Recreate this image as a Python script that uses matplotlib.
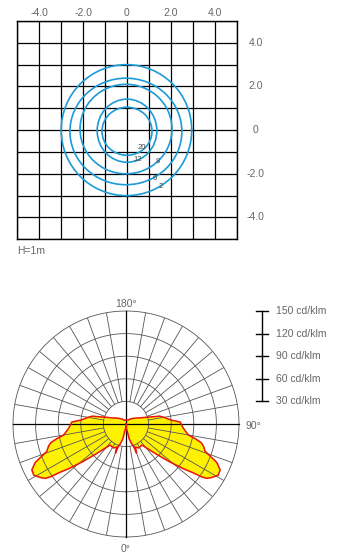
import matplotlib
matplotlib.use('Agg')
import matplotlib.pyplot as plt
from matplotlib.patches import Ellipse
import numpy as np

plt.rcParams['font.family'] = ['Liberation Sans', 'DejaVu Sans']

# isolux plot (H=1m): radius of each contour to the right, top, left, bottom
lux_levels = [20, 12, 8, 6, 2]
r_right = [1.14, 1.36, 2.05, 2.50, 2.95]
r_top = [1.05, 1.42, 2.10, 2.38, 3.00]
r_left = [1.14, 1.36, 2.14, 2.60, 3.00]
r_bottom = [1.15, 1.47, 2.00, 2.50, 3.00]
label_x = [0.67, 0.51, 1.38, 1.27, 1.53]
label_y = [-0.79, -1.33, -1.45, -2.22, -2.57]
axis_ticks = [-4, -2, 0, 2, 4]
axis_labels = ['-4.0', '-2.0', '0', '2.0', '4.0']

# polar intensity curve (cd/klm), gamma from nadir, mirrored left/right
gamma = [0, 5, 10, 12, 16, 19, 20, 22, 28, 37, 45, 49, 52, 54, 55, 56, 58, 61, 64, 67,
         69, 71, 74, 76, 78, 80, 86, 92, 95, 100, 103, 108, 115, 120, 130, 140, 150,
         160, 170, 180]
intensity = [0, 6, 10, 20, 27, 33, 41, 33, 36, 35, 56, 76, 96, 110, 122, 129, 134, 140,
             139, 131, 120, 111, 107, 103, 94, 84, 76, 72, 60, 51, 46, 29, 19, 16, 11.4,
             8.7, 6.1, 5.5, 5.3, 5.3]
rings = [30, 60, 90, 120, 150]
scale_labels = ['150 cd/klm', '120 cd/klm', '90 cd/klm', '60 cd/klm', '30 cd/klm']
scale_vals = [150, 120, 90, 60, 30]

W, H = 343, 556
txt_col = '#666666'
fs = 7.5

fig = plt.figure(figsize=(W / 100, H / 100), dpi=100)

# ---- top: isolux grid ----
ax1 = fig.add_axes([17.3 / W, (H - 239.3) / H, 219.4 / W, 218.3 / H])
ax1.set_xlim(-5, 5)
ax1.set_ylim(-5, 5)
ax1.set_xticks(range(-5, 6))
ax1.set_yticks(range(-5, 6))
ax1.grid(True, color='black', lw=0.9)
ax1.tick_params(length=0, labelbottom=False, labelleft=False)
for s in ax1.spines.values():
    s.set_linewidth(1.0)
for lvl, rr, rt, rl, rb in zip(lux_levels, r_right, r_top, r_left, r_bottom):
    e = Ellipse(((rr - rl) / 2, (rt - rb) / 2), rr + rl, rt + rb,
                fill=False, ec='#1b9bd8', lw=1.2, zorder=3)
    ax1.add_patch(e)
for lvl, x, y in zip(lux_levels, label_x, label_y):
    ax1.text(x, y, str(lvl), fontsize=5.5, color='#444444', ha='center', va='center', zorder=4)
for v, lab in zip(axis_ticks, axis_labels):
    ax1.annotate(lab, xy=(v, 5), xytext=(0, 8), textcoords='offset pixels',
                 ha='center', va='center', fontsize=fs, color=txt_col, annotation_clip=False)
    ax1.annotate(lab, xy=(5, v), xytext=(19, 0), textcoords='offset pixels',
                 ha='center', va='center', fontsize=fs, color=txt_col, annotation_clip=False)
ax1.annotate('H=1m', xy=(-5, -5), xytext=(0, -12), textcoords='offset pixels',
             ha='left', va='center', fontsize=fs, color=txt_col, annotation_clip=False)

# ---- bottom: polar intensity diagram ----
cx, cy, R = 126, 424, 113
ax2 = fig.add_axes([(cx - R) / W, (H - cy - R) / H, 2 * R / W, 2 * R / H], projection='polar')
ax2.set_theta_zero_location('S')
ax2.set_theta_direction(1)
ax2.set_ylim(0, 150)
ax2.grid(False)
ax2.set_xticks([])
ax2.set_yticks([])
ax2.spines['polar'].set_visible(False)
ax2.patch.set_alpha(0)

g = np.radians(gamma)
theta_full = np.concatenate([g, 2 * np.pi - g[::-1]])
r_full = np.concatenate([intensity, intensity[::-1]])
ax2.fill(theta_full, r_full, color='#fff200', zorder=1)

circ = np.linspace(0, 2 * np.pi, 361)
for r in rings:
    ax2.plot(circ, np.full_like(circ, r), color='#555555', lw=0.6, zorder=2, clip_on=False)
for d in range(0, 360, 10):
    t = np.radians(d)
    if d % 90 == 0:
        ax2.plot([t, t], [0, 150], color='black', lw=0.9, zorder=2, clip_on=False)
    else:
        ax2.plot([t, t], [30, 150], color='#555555', lw=0.6, zorder=2)
ax2.plot(theta_full, r_full, color='#e8141b', lw=1.1, zorder=3)

ax2.annotate('180°', xy=(np.pi, 150), xytext=(0, 7), textcoords='offset pixels',
             ha='center', va='center', fontsize=fs, color=txt_col, annotation_clip=False)
ax2.annotate('0°', xy=(0, 150), xytext=(0, -12), textcoords='offset pixels',
             ha='center', va='center', fontsize=fs, color=txt_col, annotation_clip=False)
ax2.annotate('90°', xy=(np.pi / 2, 150), xytext=(7, -2), textcoords='offset pixels',
             ha='left', va='center', fontsize=fs, color=txt_col, annotation_clip=False)

# ---- scale bar (pixel overlay) ----
ax3 = fig.add_axes([0, 0, 1, 1])
ax3.set_xlim(0, W)
ax3.set_ylim(H, 0)
ax3.axis('off')
ys = [cy - v / 150 * R for v in scale_vals]
ax3.plot([262, 262], [ys[0], ys[-1]], color='black', lw=1.0)
for y, lab in zip(ys, scale_labels):
    ax3.plot([256, 268], [y, y], color='black', lw=1.0)
    ax3.text(276, y, lab, ha='left', va='center', fontsize=fs, color=txt_col)

fig.savefig('out.png', dpi=100)
